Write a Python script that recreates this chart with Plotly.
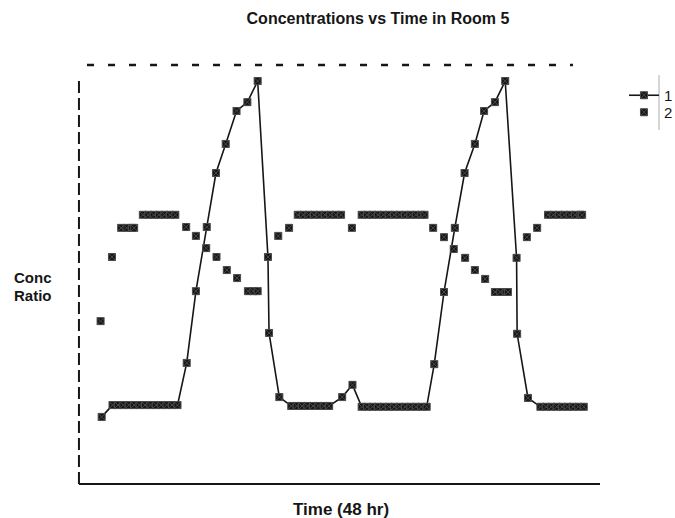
import plotly.graph_objects as go

# ---- data (time in hours, concentration ratio 0..1) ----
s1_time = [2.0,
           3.0, 3.5, 4.0, 4.5, 5.0, 5.5, 6.0, 6.5, 7.0, 7.5, 8.0, 8.5, 9.0,
           9.85, 10.7, 11.7, 12.55, 13.45, 14.45, 15.45, 16.4,
           17.35, 17.45, 18.4,
           19.5, 20.0, 20.5, 21.0, 21.5, 22.0, 22.5, 23.0,
           24.2, 25.15,
           26.0, 26.5, 27.0, 27.5, 28.0, 28.5, 29.0, 29.5, 30.0, 30.5, 31.0, 31.5, 32.0,
           32.7, 33.6, 34.6, 35.5, 36.45, 37.3, 38.3, 39.25,
           40.3, 40.35, 41.35,
           42.5, 43.0, 43.5, 44.0, 44.5, 45.0, 45.5, 46.0, 46.5]
s1_value = [0.166,
            0.194, 0.194, 0.194, 0.194, 0.194, 0.194, 0.194, 0.194, 0.194, 0.194, 0.194, 0.194, 0.194,
            0.294, 0.464, 0.616, 0.744, 0.813, 0.891, 0.912, 0.962,
            0.545, 0.365, 0.213,
            0.192, 0.192, 0.192, 0.192, 0.192, 0.192, 0.192, 0.192,
            0.213, 0.242,
            0.190, 0.190, 0.190, 0.190, 0.190, 0.190, 0.190, 0.190, 0.190, 0.190, 0.190, 0.190, 0.190,
            0.291, 0.462, 0.614, 0.744, 0.813, 0.891, 0.912, 0.962,
            0.543, 0.363, 0.211,
            0.190, 0.190, 0.190, 0.190, 0.190, 0.190, 0.190, 0.190, 0.190]

s2_time = [1.9, 2.95,
           3.8, 4.3, 4.8, 5.0,
           5.8, 6.3, 6.8, 7.3, 7.8, 8.3, 8.8,
           9.8, 10.7, 11.65, 12.6, 13.55, 14.5,
           15.5, 16.0, 16.4,
           18.3, 19.3,
           20.1, 20.6, 21.1, 21.6, 22.1, 22.6, 23.1, 23.6, 24.1,
           25.1,
           26.0, 26.5, 27.0, 27.5, 28.0, 28.5, 29.0, 29.5, 30.0, 30.5, 31.0, 31.5, 31.8,
           32.6, 33.6, 34.5, 35.55, 36.45, 37.4,
           38.3, 38.8, 39.3, 39.5,
           41.25, 42.2,
           43.2, 43.7, 44.2, 44.7, 45.2, 45.7, 46.2, 46.35]
s2_value = [0.393, 0.545,
            0.614, 0.614, 0.614, 0.614,
            0.645, 0.645, 0.645, 0.645, 0.645, 0.645, 0.645,
            0.616, 0.595, 0.566, 0.545, 0.514, 0.495,
            0.464, 0.464, 0.464,
            0.595, 0.614,
            0.645, 0.645, 0.645, 0.645, 0.645, 0.645, 0.645, 0.645, 0.645,
            0.614,
            0.645, 0.645, 0.645, 0.645, 0.645, 0.645, 0.645, 0.645, 0.645, 0.645, 0.645, 0.645, 0.645,
            0.614, 0.592, 0.564, 0.543, 0.514, 0.493,
            0.462, 0.462, 0.462, 0.462,
            0.592, 0.614,
            0.645, 0.645, 0.645, 0.645, 0.645, 0.645, 0.645, 0.645]

series_names = ["1", "2"]

INK = "#161616"
font_fam = "Liberation Sans, Arial, sans-serif"

fig = go.Figure()
fig.add_trace(go.Scatter(x=s1_time, y=s1_value, mode="lines+markers",
                         name=series_names[0], legend="legend",
                         line=dict(color=INK, width=1.6),
                         marker=dict(symbol="square-x", size=7, color=INK,
                                     line=dict(color="#4a4a4a", width=1))))
fig.add_trace(go.Scatter(x=s2_time, y=s2_value, mode="markers",
                         name=series_names[1], legend="legend2",
                         marker=dict(symbol="square-x", size=7, color=INK,
                                     line=dict(color="#4a4a4a", width=1))))

# frame decorations (paper coords)
fig.add_shape(type="line", xref="paper", yref="paper", x0=0.0135, x1=0.948, y0=1, y1=1,
              line=dict(color=INK, width=2.5, dash="7px,14px"))
fig.add_shape(type="line", xref="paper", yref="paper", x0=-0.002, x1=-0.002, y0=0, y1=0.971,
              line=dict(color=INK, width=2, dash="12px,5px"))
fig.add_shape(type="line", xref="paper", yref="paper", x0=-0.002, x1=1.0, y0=0, y1=0,
              line=dict(color=INK, width=2))
fig.add_shape(type="line", xref="paper", yref="paper", x0=1.1135, x1=1.1135, y0=0.845, y1=0.976,
              line=dict(color="#c8c8c8", width=1.5))

label_font = dict(family=font_fam, size=15, color=INK)
fig.add_annotation(text="<b>Conc</b>", xref="paper", yref="paper",
                   x=-0.0913, y=0.494, xanchor="center", yanchor="middle",
                   showarrow=False, font=label_font)
fig.add_annotation(text="<b>Ratio</b>", xref="paper", yref="paper",
                   x=-0.0913, y=0.451, xanchor="center", yanchor="middle",
                   showarrow=False, font=label_font)
fig.add_annotation(text="<b>Time (48 hr)</b>", xref="paper", yref="paper",
                   x=0.502, y=-0.062, xanchor="center", yanchor="middle",
                   showarrow=False,
                   font=dict(family=font_fam, size=17, color=INK))

legend_font = dict(family=font_fam, size=15, color=INK)
fig.update_layout(
    width=675, height=518,
    margin=dict(l=80, r=75, t=65, b=34),
    paper_bgcolor="white", plot_bgcolor="white",
    title=dict(text="<b>Concentrations vs Time in Room 5</b>",
               x=0.56, xref="container", xanchor="center",
               y=0.965, yref="container", yanchor="middle",
               font=dict(family=font_fam, size=16, color=INK)),
    xaxis=dict(range=[0, 48], showgrid=False, zeroline=False,
               showticklabels=False, ticks="", showline=False),
    yaxis=dict(range=[0.007, 1.0], showgrid=False, zeroline=False,
               showticklabels=False, ticks="", showline=False),
    showlegend=True,
    legend=dict(xref="container", yref="container", x=0.9244, y=0.8475,
                xanchor="left", yanchor="top", font=legend_font,
                bgcolor="rgba(0,0,0,0)", itemwidth=30),
    legend2=dict(xref="container", yref="container", x=0.9244, y=0.8147,
                 xanchor="left", yanchor="top", font=legend_font,
                 bgcolor="rgba(0,0,0,0)", itemwidth=30),
)

fig.write_html("out.html",
               config={"displayModeBar": False},
               post_script="document.body.style.margin='0';document.body.style.overflow='hidden';")
